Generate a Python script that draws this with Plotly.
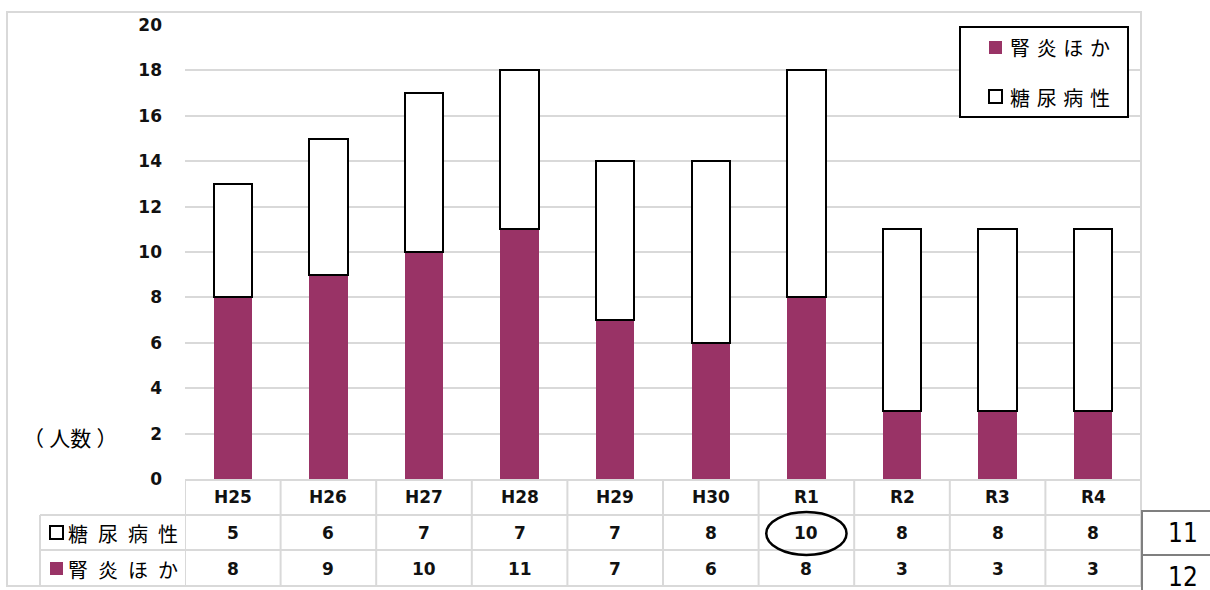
import plotly.graph_objects as go

# ---- data ----
years = ["H25", "H26", "H27", "H28", "H29", "H30", "R1", "R2", "R3", "R4"]
diabetic = [5, 6, 7, 7, 7, 8, 10, 8, 8, 8]        # 糖尿病性
nephritis = [8, 9, 10, 11, 7, 6, 8, 3, 3, 3]      # 腎炎ほか
side_numbers = ["11", "12"]

PURPLE = "#993366"
GRID = "#d9d9d9"
W, H = 1210, 590
L, R, T, B = 185, 1141, 25, 479   # plot area in pixels

def px(x):
    return (x - L) / (R - L)

def py(y):
    return (B - y) / (B - T)

JP = "Noto Sans CJK JP, sans-serif"
NUM = "DejaVu Sans, Verdana, sans-serif"

fig = go.Figure()
fig.add_trace(go.Bar(x=years, y=nephritis, name="腎炎ほか", width=0.4,
                     marker=dict(color=PURPLE, line=dict(width=0))))
fig.add_trace(go.Bar(x=years, y=diabetic, name="糖尿病性", width=0.4,
                     marker=dict(color="white", line=dict(color="black", width=2))))

shapes = []
ann = []

def text(x, y, s, font, xref="paper", xanchor="center"):
    ann.append(dict(x=x, y=y, xref=xref, yref="paper", text=s, showarrow=False,
                    xanchor=xanchor, yanchor="middle", font=font))

def line(x0, y0, x1, y1, color=GRID, width=2, xref="paper"):
    shapes.append(dict(type="line", xref=xref, yref="paper",
                       x0=x0, y0=y0, x1=x1, y1=y1,
                       line=dict(color=color, width=width), layer="above"))

# outer frame
shapes.append(dict(type="rect", xref="paper", yref="paper",
                   x0=px(7), y0=py(12), x1=px(1141), y1=py(586),
                   line=dict(color=GRID, width=2), layer="below"))

# data table below the plot
row_y = [480, 515, 550, 586]
line(px(185), py(480), px(1141), py(480))
for y in row_y[1:]:
    line(px(40), py(y), px(1141), py(y))
line(px(40), py(515), px(40), py(586))
for i in range(len(years) + 1):
    line(i - 0.5, py(480), i - 0.5, py(586), xref="x")

bold = dict(family=NUM, size=17, color="#111111")
for i, yr in enumerate(years):
    text(i, py(497), f"<b>{yr}</b>", bold, xref="x")
    text(i, py(533), f"<b>{diabetic[i]}</b>", bold, xref="x")
    text(i, py(569), f"<b>{nephritis[i]}</b>", bold, xref="x")

# row labels with their colour keys
def key_square(x, y, filled):
    shapes.append(dict(type="rect", xref="paper", yref="paper",
                       x0=px(x), y0=py(y + 6), x1=px(x + 13), y1=py(y - 7),
                       fillcolor=PURPLE if filled else "white",
                       line=dict(color=PURPLE if filled else "black", width=0 if filled else 2),
                       layer="above"))

sp = "\u2002"
jp_font = dict(family=JP, size=20, color="black")
key_square(50, 533, False)
text(px(66), py(533), sp.join("糖尿病性"), jp_font, xanchor="left")
key_square(50, 569, True)
text(px(66), py(569), sp.join("腎炎ほか"), jp_font, xanchor="left")

# legend box
shapes.append(dict(type="rect", xref="paper", yref="paper",
                   x0=px(960), y0=py(27), x1=px(1128), y1=py(117),
                   fillcolor="white", line=dict(color="black", width=2), layer="above"))
lsp = "\u2004"
key_square(989, 48, True)
text(px(1008), py(48), lsp.join("腎炎ほか"), jp_font, xanchor="left")
key_square(989, 97, False)
text(px(1008), py(97), lsp.join("糖尿病性"), jp_font, xanchor="left")

# axis unit label
text(px(70), py(437), "（\u2005人数\u2005）", dict(family=JP, size=21, color="black"))

# highlight around the R1 value
r1 = years.index("R1")
shapes.append(dict(type="circle", xref="x", yref="paper",
                   x0=r1 - 0.42, x1=r1 + 0.42, y0=py(512), y1=py(555),
                   line=dict(color="black", width=2.5), layer="above"))

# side numbered boxes
for k, (y0, y1, yc) in enumerate([(511, 555, 533), (555, 610, 577)]):
    shapes.append(dict(type="rect", xref="paper", yref="paper",
                       x0=px(1142), y0=py(y0), x1=px(1215), y1=py(y1),
                       line=dict(color="#7f7f7f", width=2), layer="above"))
    text(px(1183), py(yc), side_numbers[k],
         dict(family="Liberation Sans Narrow, DejaVu Sans Condensed, sans-serif",
              size=26, color="black"))

fig.update_layout(
    width=W, height=H,
    margin=dict(l=L, r=W - R, t=T, b=H - B),
    paper_bgcolor="white", plot_bgcolor="white",
    barmode="stack", bargap=0.6,
    showlegend=False,
    shapes=shapes, annotations=ann,
    xaxis=dict(range=[-0.5, len(years) - 0.5], showticklabels=False,
               showgrid=False, zeroline=False, showline=False, ticks=""),
    yaxis=dict(range=[0, 20], dtick=2, showgrid=True, gridcolor=GRID, gridwidth=2,
               zeroline=False, showline=False, ticks="",
               tickfont=dict(family=NUM, size=17, color="#111111"),
               ticklabelstandoff=22, tickprefix="<b>", ticksuffix="</b>"),
)

fig.write_html("out.html")
